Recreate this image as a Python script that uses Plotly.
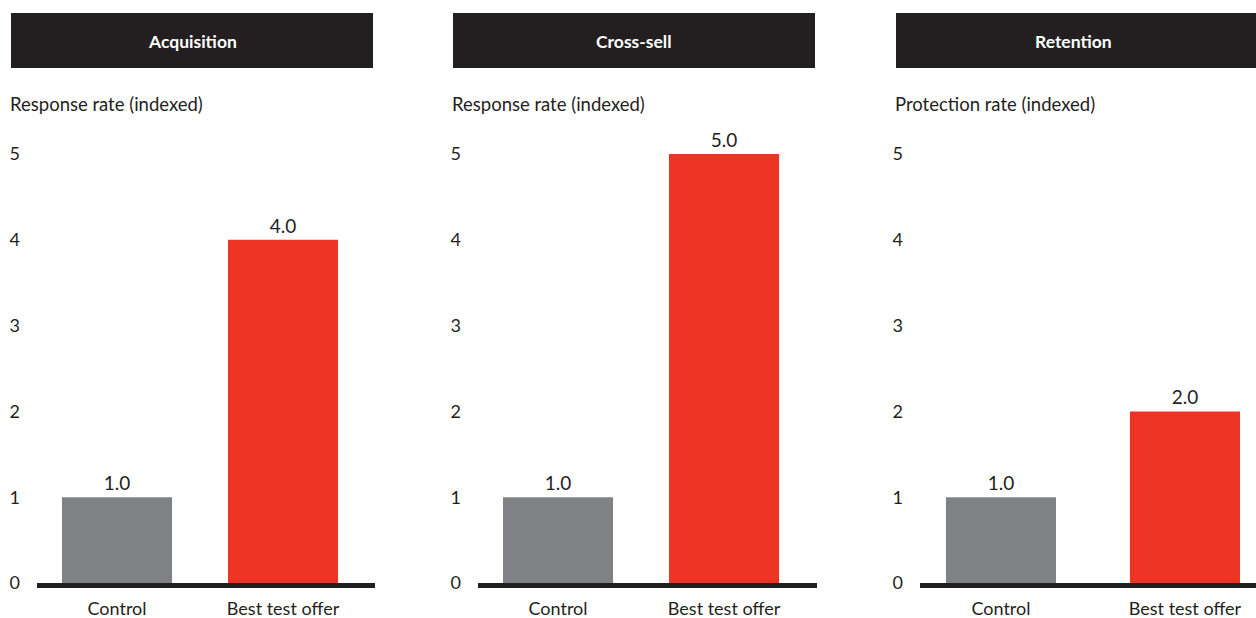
import plotly.graph_objects as go

# ---- data ----
panel_titles = ["Acquisition", "Cross-sell", "Retention"]
axis_labels = ["Response rate (indexed)", "Response rate (indexed)", "Protection rate (indexed)"]
categories = ["Control", "Best test offer"]
acquisition = [1.0, 4.0]
cross_sell = [1.0, 5.0]
retention = [1.0, 2.0]
y_ticks = [0, 1, 2, 3, 4, 5]

series = [acquisition, cross_sell, retention]

W, H = 1256, 618
GRAY = "#808184"
RED = "#ee3424"
DARK = "#231f20"
FONT = "Lato"

# layout (pixels)
axis_px = [(37, 375), (478, 817), (920, 1256)]
xranges = [(-0.482, 1.554), (-0.482, 1.56), (-0.44, 1.386)]
bar_widths = [0.663, 0.663, 0.598]
header_px = [(11, 373), (453, 815), (896, 1262)]
y0_px = 583
ymax = 5.2
unit_px = 85.8
ytop_px = y0_px - ymax * unit_px

def px(x):
    return x / W

def py(y):
    return 1 - y / H

fig = go.Figure()
shapes = []
annotations = []
for i in range(3):
    xa = "x" if i == 0 else f"x{i+1}"
    ya = "y" if i == 0 else f"y{i+1}"
    fig.add_trace(go.Bar(
        x=categories, y=series[i],
        marker=dict(color=[GRAY, RED], line=dict(width=0)),
        width=bar_widths[i],
        texttemplate="%{y:.1f}", textposition="outside",
        textfont=dict(family=FONT, size=19, color=DARK),
        cliponaxis=False, xaxis=xa, yaxis=ya, showlegend=False,
    ))
    xkey = "xaxis" if i == 0 else f"xaxis{i+1}"
    ykey = "yaxis" if i == 0 else f"yaxis{i+1}"
    fig.layout[xkey] = dict(
        domain=[px(axis_px[i][0]), px(min(axis_px[i][1], W))],
        range=list(xranges[i]), anchor=ya, automargin=False,
        showline=True, linewidth=5, linecolor=DARK,
        showgrid=False, zeroline=False, ticks="",
        tickfont=dict(family=FONT, size=18, color=DARK),
        ticklabelstandoff=5,
        fixedrange=True,
    )
    fig.layout[ykey] = dict(
        domain=[py(y0_px), py(ytop_px)],
        range=[0, ymax], anchor=xa, automargin=False,
        tickvals=y_ticks, ticktext=[str(t) for t in y_ticks],
        showline=False, showgrid=False, zeroline=False, ticks="",
        tickfont=dict(family=FONT, size=18, color=DARK),
        ticklabelstandoff=16,
        fixedrange=True,
    )
    hx0, hx1 = header_px[i]
    shapes.append(dict(type="rect", xref="paper", yref="paper",
                       x0=px(hx0), x1=px(hx1), y0=py(68), y1=py(13),
                       fillcolor=DARK, line=dict(width=0), layer="below"))
    annotations.append(dict(xref="paper", yref="paper",
                            x=px((hx0 + min(hx1, W + 0) + (0 if i < 2 else -6)) / 2), y=py(42),
                            text=f"<b>{panel_titles[i]}</b>", showarrow=False,
                            font=dict(family=FONT, size=17.5, color="white"),
                            xanchor="center", yanchor="middle"))
    annotations.append(dict(xref="paper", yref="paper",
                            x=px(hx0 - 3), y=py(104),
                            text=axis_labels[i], showarrow=False,
                            font=dict(family=FONT, size=18.5, color=DARK),
                            xanchor="left", yanchor="middle"))

fig.update_layout(
    width=W, height=H,
    margin=dict(l=0, r=0, t=0, b=0),
    paper_bgcolor="white", plot_bgcolor="white",
    shapes=shapes, annotations=annotations,
    bargap=0.3,
)

fig.write_html("out.html", config={"displayModeBar": False})
